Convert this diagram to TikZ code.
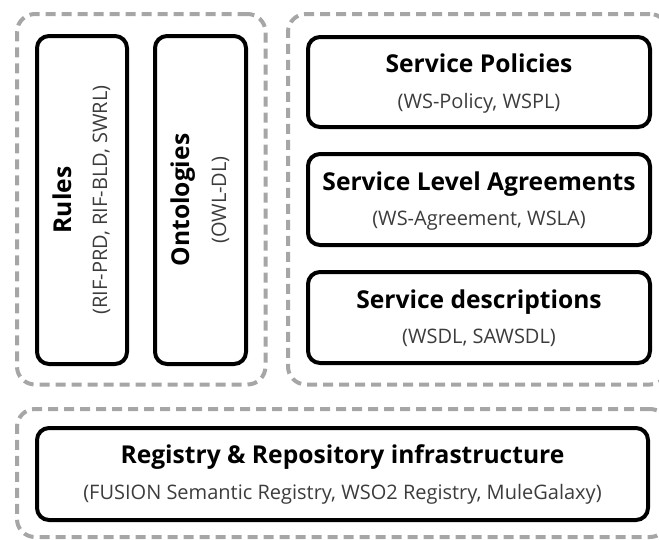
\documentclass[tikz,border=0pt]{standalone}
\usepackage{fontspec}
\setmainfont{Open Sans}
\usetikzlibrary{calc}
\definecolor{grpgray}{HTML}{A6A6A6}
\definecolor{subgray}{HTML}{3C3C3C}
\begin{document}
\begin{tikzpicture}[x=1pt,y=-1pt,
  grp/.style={draw=grpgray, line width=4pt, dash pattern=on 10pt off 6pt, rounded corners=18pt, inner sep=0pt},
  box/.style={draw=black, line width=4pt, rounded corners=12pt, inner sep=0pt},
  ttl/.style={font=\bfseries\fontsize{24.6}{28}\selectfont, text=black, inner sep=0pt, anchor=base},
  sub/.style={font=\fontsize{20}{24}\selectfont, text=subgray, inner sep=0pt, anchor=base},
]
\useasboundingbox (0,0) rectangle (659,539);
% dashed groups
\node[grp, minimum width=248.5pt, minimum height=370.5pt] (gleft) at (141.25,199.25) {};
\node[grp, minimum width=380pt, minimum height=370.5pt] (gright) at (478,199.25) {};
\node[grp, minimum width=651pt, minimum height=128pt] (gbottom) at (342.5,473) {};
% boxes
\node[box, minimum width=90pt, minimum height=328pt] (rules) at (82,200) {};
\node[box, minimum width=91pt, minimum height=328pt] (onto) at (200.5,200) {};
\node[box, minimum width=342pt, minimum height=90pt] (sp) at (479,82) {};
\node[box, minimum width=342pt, minimum height=91pt] (sla) at (479,199.5) {};
\node[box, minimum width=342pt, minimum height=91pt] (sd) at (479,317.5) {};
\node[box, minimum width=611pt, minimum height=92pt] (reg) at (342.5,474) {};
% texts
\node[ttl, rotate=90] (rulesT) at ($(rules.west)+(36,0)$) {Rules};
\node[sub, rotate=90] (rulesS) at ($(rules.west)+(72,0)$) {(RIF-PRD, RIF-BLD, SWRL)};
\node[ttl, rotate=90] (ontoT) at ($(onto.west)+(36,0)$) {Ontologies};
\node[sub, rotate=90] (ontoS) at ($(onto.west)+(73,0)$) {(OWL-DL)};
\node[ttl] (spT) at ($(sp.north)+(0,37)$) {Service Policies};
\node[sub] (spS) at ($(sp.north)+(0,73)$) {(WS-Policy, WSPL)};
\node[ttl] (slaT) at ($(sla.north)+(0,38)$) {Service Level Agreements};
\node[sub] (slaS) at ($(sla.north)+(0,73)$) {(WS-Agreement, WSLA)};
\node[ttl] (sdT) at ($(sd.north)+(0,38)$) {Service descriptions};
\node[sub] (sdS) at ($(sd.north)+(0,73)$) {(WSDL, SAWSDL)};
\node[ttl] (regT) at ($(reg.north)+(0,37)$) {Registry \& Repository infrastructure};
\node[sub] (regS) at ($(reg.north)+(0,73)$) {(FUSION Semantic Registry, WSO2 Registry, MuleGalaxy)};
\end{tikzpicture}
\end{document}
